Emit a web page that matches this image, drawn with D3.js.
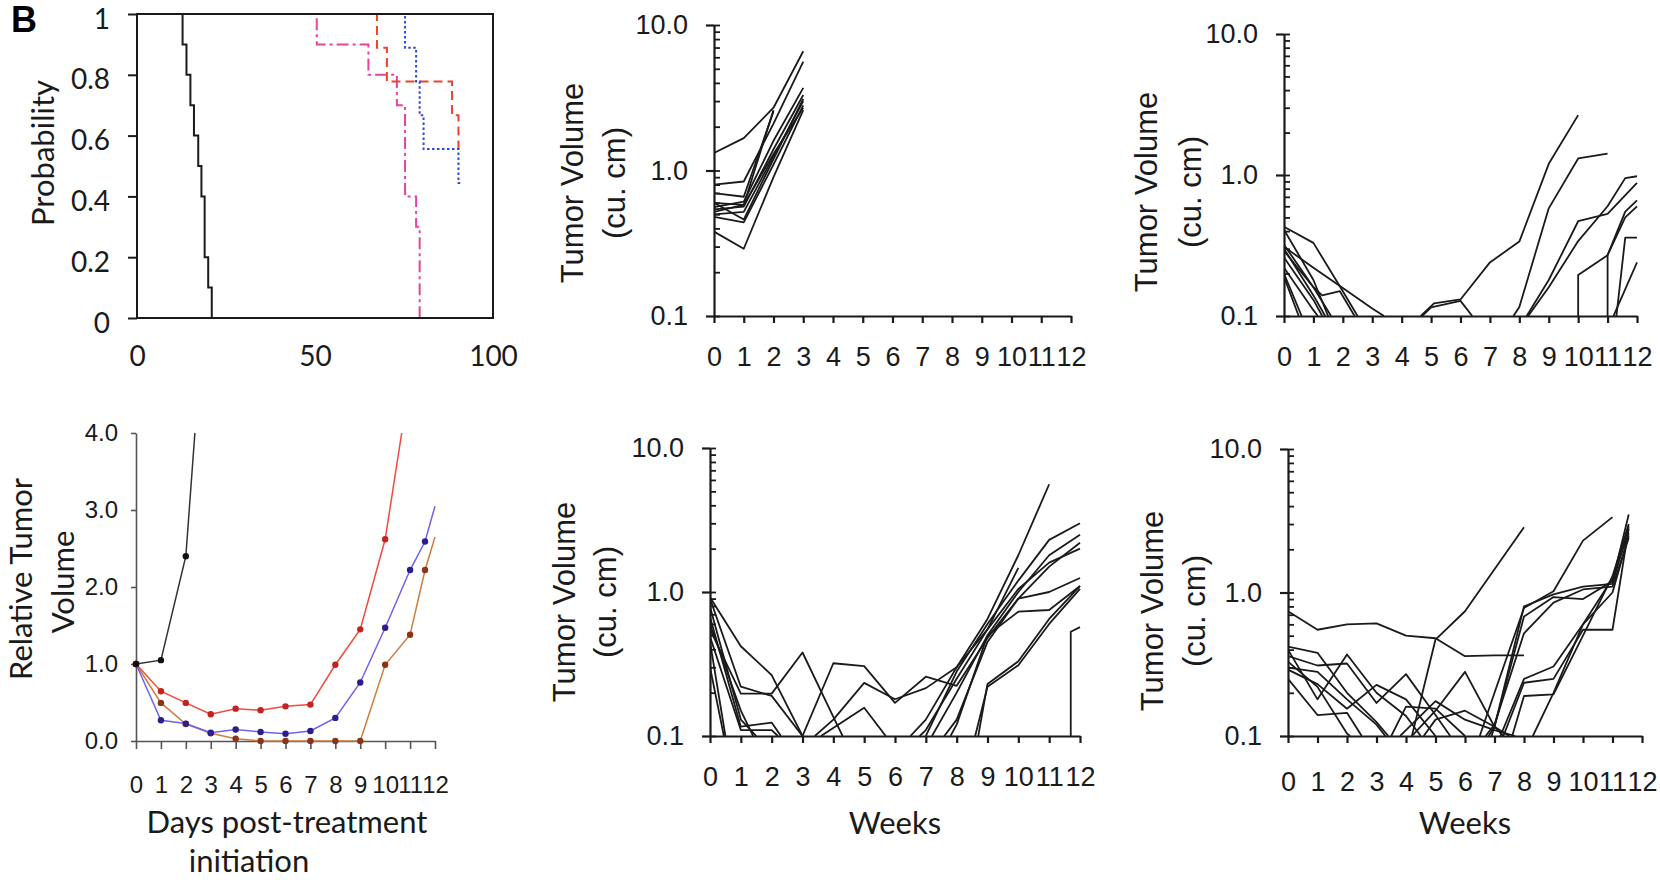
<!DOCTYPE html>
<html>
<head>
<meta charset="utf-8">
<script src="https://cdn.jsdelivr.net/npm/d3@7"></script>
<style>
  body { margin: 0; background: #fff; }
  svg { display: block; }
</style>
</head>
<body>
<svg id="chart" width="1660" height="880"></svg>
<script>
// ---------- data ----------
// survival curves: [day, probability]
const kmTicksX = [0, 50, 100];
const kmTicksY = [0, 0.2, 0.4, 0.6, 0.8, 1];
const kmBlack = [[0, 1], [12.8, 0.9], [13.9, 0.8], [15, 0.7], [16, 0.6], [17.2, 0.5], [18.1, 0.4], [19, 0.2], [20, 0.1], [21, 0]];
const kmPink = [[0, 1], [50.5, 0.9], [65, 0.8], [73, 0.7], [75.3, 0.4], [78.4, 0.3], [79.4, 0]];
const kmRed = [[0, 1], [67.4, 0.889], [70.2, 0.778], [88.5, 0.667], [90.3, 0.556], [91.3, 0.556]];
const kmBlue = [[0, 1], [75.3, 0.889], [78.4, 0.778], [79.4, 0.667], [80.5, 0.556], [90.3, 0.444], [90.8, 0.444]];

// relative tumour volume: [day, relative volume]
const relDays = [0, 1, 2, 3, 4, 5, 6, 7, 8, 9, 10, 11, 12];
const relTicksY = [0, 1, 2, 3, 4];
const relBlack = [[0, 1.0], [1, 1.05], [2, 2.4], [3, 6.8]];
const relRed = [[0, 1.0], [1, 0.646], [2, 0.495], [3, 0.347], [4, 0.42], [5, 0.40], [6, 0.45], [7, 0.473], [8, 0.99], [9, 1.45], [10, 2.62], [11, 4.7]];
const relBlue = [[0, 1.0], [1, 0.27], [2, 0.226], [3, 0.108], [4, 0.15], [5, 0.117], [6, 0.095], [7, 0.13], [8, 0.30], [9, 0.76], [10, 1.47], [11, 2.22], [11.6, 2.59], [12, 3.05]];
const relBrown = [[0, 1.0], [1, 0.495], [2, 0.22], [3, 0.10], [4, 0.03], [5, 0], [6, 0], [7, 0], [8, 0], [9, 0], [10, 0.99], [11, 1.38], [11.6, 2.22], [12, 2.65]];

// individual tumour volumes: [week, cu. cm]
const weeks = [0, 1, 2, 3, 4, 5, 6, 7, 8, 9, 10, 11, 12];
const volTicksY = [0.1, 1, 10];
const volMinorTicks = [0.2, 0.3, 0.4, 0.5, 0.6, 0.7, 0.8, 0.9, 2, 3, 4, 5, 6, 7, 8, 9];

const volTopMid = [
  [[0, 1.32], [1, 1.67], [2, 2.7], [3, 6.6]],
  [[0, 0.80], [1, 0.84], [2, 2.1], [3, 5.6]],
  [[0, 0.70], [1, 0.66], [2, 2.55]],
  [[0, 0.60], [1, 0.58], [2, 2.6]],
  [[0, 0.56], [1, 0.61], [2, 1.6], [3, 3.7]],
  [[0, 0.54], [1, 0.565], [2, 1.4], [3, 3.3]],
  [[0, 0.50], [1, 0.52], [2, 1.25], [3, 3.0]],
  [[0, 0.48], [1, 0.44], [2, 1.1], [3, 2.8]],
  [[0, 0.52], [1, 0.58], [2, 1.3], [3, 2.7]],
  [[0, 0.38], [1, 0.29], [2, 0.9], [3, 2.6]],
  [[0, 0.60], [1, 0.46], [2, 1.2], [3, 3.1]]
];

const volTopRight = [
  [[0, 0.43], [1, 0.33], [2, 0.15], [2.5, 0.1]],
  [[0, 0.31], [1, 0.22], [2, 0.158], [3, 0.113], [3.4, 0.1]],
  [[0, 0.29], [1, 0.16], [1.3, 0.14], [1.9, 0.15], [2.4, 0.1]],
  [[0, 0.32], [1, 0.16], [1.6, 0.1]],
  [[0, 0.22], [1, 0.11], [1.15, 0.1]],
  [[0, 0.20], [0.6, 0.1]],
  [[0, 0.19], [0.5, 0.1]],
  [[0, 0.41], [1, 0.18], [1.5, 0.1]],
  [[0, 0.30], [1, 0.14], [1.4, 0.1]],
  [[0, 0.26], [1, 0.13], [1.3, 0.1]],
  [[4.65, 0.1], [5.1, 0.123], [6, 0.131], [7, 0.24], [8, 0.337], [9, 1.2], [10, 2.66]],
  [[4.7, 0.1], [5, 0.115], [6, 0.128], [6.4, 0.1]],
  [[7.8, 0.1], [8, 0.116], [9, 0.58], [10, 1.31], [11, 1.42]],
  [[8.25, 0.1], [9, 0.18], [10, 0.47], [11, 0.53], [12, 0.88]],
  [[8.3, 0.1], [9, 0.16], [10, 0.34], [11, 0.6], [11.6, 0.95], [12, 0.98]],
  [[10, 0.1], [10, 0.195], [11, 0.27], [11.6, 0.5], [12, 0.6]],
  [[11, 0.1], [11, 0.27], [11.6, 0.55], [12, 0.66]],
  [[11.2, 0.1], [12, 0.24]],
  [[11.3, 0.1], [11.6, 0.36], [12, 0.36]]
];

const volBotMid = [
  [[0, 0.92], [1, 0.42], [2, 0.265], [3, 0.1]],
  [[0, 0.55], [1, 0.197], [2, 0.197], [3, 0.38], [4, 0.136], [4.3, 0.1]],
  [[0, 0.90], [1, 0.22], [2, 0.19], [3, 0.1]],
  [[0, 0.67], [1, 0.116], [2, 0.124], [2.3, 0.1]],
  [[0, 0.49], [1, 0.11], [2, 0.11], [2.2, 0.1]],
  [[0, 0.45], [0.5, 0.1]],
  [[0, 0.30], [0.45, 0.1]],
  [[0, 0.79], [1, 0.13], [1.5, 0.1]],
  [[0, 0.60], [1, 0.15], [1.4, 0.1]],
  [[3, 0.1], [4, 0.32], [5, 0.306], [6, 0.17], [7, 0.258], [8, 0.223], [9, 0.48], [10, 0.9], [11, 1.0], [12, 1.25]],
  [[3.4, 0.1], [4, 0.13], [5, 0.234], [6, 0.18], [7, 0.215], [8, 0.3], [9, 0.55], [10, 1.05], [11, 1.6], [12, 2.0]],
  [[3.6, 0.1], [5, 0.157], [5.7, 0.1]],
  [[6.5, 0.1], [7, 0.13], [8, 0.3], [9, 0.65], [10, 1.8], [11, 5.6]],
  [[6.8, 0.1], [7, 0.11], [8, 0.25], [9, 0.55], [10, 1.47]],
  [[7, 0.1], [8, 0.28], [9, 0.6], [10, 1.2], [11, 2.3], [12, 3.0]],
  [[7.2, 0.1], [8, 0.2], [9, 0.5], [10, 1.0], [11, 1.8], [12, 2.5]],
  [[7.6, 0.1], [8, 0.13], [9, 0.45], [10, 0.9], [11, 1.5], [12, 2.2]],
  [[7.8, 0.1], [8, 0.12], [9, 0.5], [10, 0.73], [11, 0.75], [12, 1.1]],
  [[8.7, 0.1], [9, 0.23], [10, 0.33], [11, 0.65], [12, 1.1]],
  [[8.6, 0.1], [9, 0.22], [10, 0.31], [11, 0.6], [12, 1.05]],
  [[11.7, 0.1], [11.7, 0.53], [12, 0.57]]
];

const volBotRight = [
  [[0, 0.74], [1, 0.55], [2, 0.6], [3, 0.61], [4, 0.5], [5, 0.48], [6, 0.36], [7, 0.365], [8, 0.365]],
  [[4.2, 0.1], [5, 0.47], [6, 0.74], [7, 1.45], [8, 2.85]],
  [[0, 0.42], [1, 0.38], [2, 0.2], [3, 0.125], [3.4, 0.1]],
  [[0, 0.40], [1, 0.18], [2, 0.37], [3, 0.2], [4, 0.138], [4.5, 0.1]],
  [[0, 0.36], [1, 0.31], [2, 0.32], [3, 0.17], [4, 0.27], [5, 0.14], [5.5, 0.1]],
  [[0, 0.29], [1, 0.23], [2, 0.155], [3, 0.227], [4, 0.18], [5, 0.1]],
  [[0, 0.25], [1, 0.14], [2, 0.145], [2.5, 0.1]],
  [[0, 0.33], [1, 0.22], [2, 0.104], [2.1, 0.1]],
  [[0, 0.30], [1, 0.28], [2, 0.18], [3, 0.12], [3.3, 0.1]],
  [[3.5, 0.1], [4, 0.16], [5, 0.155], [6, 0.1]],
  [[4.2, 0.1], [5, 0.15], [6, 0.28], [7, 0.116], [7.3, 0.1]],
  [[4.6, 0.1], [5, 0.13], [6, 0.15], [7, 0.116], [7.5, 0.1]],
  [[3.8, 0.1], [4, 0.11], [5, 0.175], [6, 0.13], [7, 0.11], [7.7, 0.1]],
  [[6.5, 0.1], [7, 0.2], [8, 0.78], [9, 1.02], [10, 2.3], [11, 3.35]],
  [[6.8, 0.1], [7, 0.116], [8, 0.8], [9, 0.97], [10, 1.1], [11, 1.15], [11.55, 2.9]],
  [[6.9, 0.1], [7, 0.116], [8, 0.68], [9, 0.93], [10, 0.9], [11, 1.2], [11.55, 3.5]],
  [[6.7, 0.1], [7, 0.12], [8, 0.52], [9, 0.85], [10, 1.05], [11, 1.1], [11.55, 2.4]],
  [[7.2, 0.1], [8, 0.25], [9, 0.305], [10, 0.6], [11, 1.25], [11.55, 2.6]],
  [[7.3, 0.1], [8, 0.235], [9, 0.25], [10, 0.55], [11, 0.55], [11.55, 2.8]],
  [[7.6, 0.1], [8, 0.19], [9, 0.195], [10, 0.5], [11, 1.3], [11.55, 3.0]],
  [[8.3, 0.1], [9, 0.2], [10, 0.6], [11, 1.0], [11.55, 2.5]]
];

// ---------- drawing ----------
const svg = d3.select("#chart");
svg.append("rect").attr("width", 1660).attr("height", 880).attr("fill", "#fff");

const arial = "'Liberation Sans', Arial, sans-serif";
const humanist = "Lato, 'Open Sans', sans-serif";

function styleAxis(g, family, size, stroke, width) {
  g.attr("font-family", family).attr("font-size", size);
  g.selectAll("path, line").attr("stroke", stroke).attr("stroke-width", width);
  g.selectAll("text").attr("fill", "#1a1a1a");
}

function rotLabel(x, y, text, family, size) {
  svg.append("text")
    .attr("transform", `translate(${x},${y}) rotate(-90)`)
    .attr("text-anchor", "middle")
    .attr("dominant-baseline", "central")
    .attr("font-family", family)
    .attr("font-size", size)
    .attr("fill", "#1a1a1a")
    .text(text);
}

function label(x, y, text, family, size) {
  svg.append("text")
    .attr("x", x).attr("y", y)
    .attr("text-anchor", "middle")
    .attr("dominant-baseline", "central")
    .attr("font-family", family)
    .attr("font-size", size)
    .attr("fill", "#1a1a1a")
    .text(text);
}

// panel letter
svg.append("text")
  .attr("x", 11).attr("y", 32)
  .attr("font-family", arial).attr("font-weight", "bold").attr("font-size", 36)
  .text("B");

// ----- survival panel -----
const kmX = d3.scaleLinear().domain([0, 100]).range([137, 493]);
const kmY = d3.scaleLinear().domain([0, 1]).range([318, 14]);

const kmLine = d3.line()
  .x(d => kmX(d[0]))
  .y(d => kmY(d[1]))
  .curve(d3.curveStepAfter);

const kmSeries = [
  { pts: kmPink, color: "#e4449c", dash: "12,4,3,4" },
  { pts: kmRed, color: "#e8452c", dash: "9,5" },
  { pts: kmBlue, color: "#2f48dc", dash: "2.5,2.5" },
  { pts: kmBlack, color: "#1a1a1a", dash: null }
];

svg.append("g").selectAll("path")
  .data(kmSeries)
  .enter().append("path")
  .attr("d", d => kmLine(d.pts))
  .attr("fill", "none")
  .attr("stroke", d => d.color)
  .attr("stroke-width", 2)
  .attr("stroke-dasharray", d => d.dash);

svg.append("rect")
  .attr("x", kmX(0)).attr("y", kmY(1))
  .attr("width", kmX(100) - kmX(0)).attr("height", kmY(0) - kmY(1))
  .attr("fill", "none").attr("stroke", "#1a1a1a").attr("stroke-width", 2);

svg.append("g")
  .attr("transform", `translate(${kmX(0)},0)`)
  .call(d3.axisLeft(kmY).tickValues(kmTicksY).tickFormat(d3.format("~g"))
    .tickSize(9).tickPadding(18).tickSizeOuter(0))
  .call(g => styleAxis(g, humanist, 28, "#1a1a1a", 2))
  .call(g => g.select(".domain").remove())
  .call(g => g.selectAll(".tick text").attr("dy", "0.5em"));

svg.append("g")
  .attr("transform", `translate(0,${kmY(0)})`)
  .call(d3.axisBottom(kmX).tickValues(kmTicksX).tickSize(0).tickSizeOuter(0))
  .call(g => styleAxis(g, humanist, 28, "#1a1a1a", 2))
  .call(g => g.select(".domain").remove())
  .call(g => g.selectAll(".tick text").attr("y", 38).attr("dy", "0.35em"));

rotLabel(42, 153, "Probability", humanist, 31);

// ----- relative tumour volume panel -----
const relX = d3.scaleLinear().domain([0, 12]).range([136, 435]);
const relY = d3.scaleLinear().domain([0, 4]).range([741, 433]);

svg.append("defs").append("clipPath").attr("id", "relClip")
  .append("rect").attr("x", 126).attr("y", relY(4)).attr("width", 320).attr("height", 330);

svg.append("g")
  .attr("transform", `translate(${relX(0)},0)`)
  .call(d3.axisLeft(relY).tickValues(relTicksY).tickFormat(d3.format(".1f"))
    .tickSize(5).tickPadding(13).tickSizeOuter(0))
  .call(g => styleAxis(g, arial, 24, "#555", 1.6));

svg.append("g")
  .attr("transform", `translate(0,${relY(0)})`)
  .call(d3.axisBottom(relX).tickValues(relDays).tickSize(8).tickSizeOuter(0))
  .call(g => styleAxis(g, arial, 24, "#555", 1.6))
  .call(g => g.selectAll(".tick text").attr("y", 44).attr("dy", "0.35em"));

const relSeries = [
  { pts: relBrown, line: "#d27c3c", dot: "#8a3418" },
  { pts: relBlue, line: "#6f62ee", dot: "#2a1e8c" },
  { pts: relRed, line: "#f04b3b", dot: "#c22222" },
  { pts: relBlack, line: "#333", dot: "#111" }
];

const relLine = d3.line().x(d => relX(d[0])).y(d => relY(d[1]));
const relG = svg.append("g").attr("clip-path", "url(#relClip)");

relG.selectAll("path")
  .data(relSeries)
  .enter().append("path")
  .attr("d", d => relLine(d.pts))
  .attr("fill", "none")
  .attr("stroke", d => d.line)
  .attr("stroke-width", 1.5);

relSeries.forEach(s => {
  relG.selectAll(null)
    .data(s.pts.filter(d => d[0] < 12 && d[1] <= 4))
    .enter().append("circle")
    .attr("cx", d => relX(d[0]))
    .attr("cy", d => relY(d[1]))
    .attr("r", 3.2)
    .attr("fill", s.dot);
});

rotLabel(20, 579, "Relative Tumor", humanist, 31);
rotLabel(62, 582, "Volume", humanist, 31);
label(287, 821, "Days post-treatment", humanist, 31);
label(249, 860, "initiation", humanist, 31);

// ----- tumour volume panels (log scale) -----
const volPanels = [
  { data: volTopMid, x0: 714, x1: 1071, yb: 316, yt: 25, tickY: 41, tx: [572, 614], ty: 183 },
  { data: volTopRight, x0: 1284, x1: 1637, yb: 316, yt: 34, tickY: 41, tx: [1146, 1190], ty: 192 },
  { data: volBotMid, x0: 710, x1: 1080, yb: 736, yt: 448, tickY: 41, tx: [564, 605], ty: 602, wy: 822 },
  { data: volBotRight, x0: 1288, x1: 1642, yb: 736, yt: 449, tickY: 46, tx: [1152, 1194], ty: 611, wy: 822 }
];

volPanels.forEach((p, i) => {
  const x = d3.scaleLinear().domain([0, 12]).range([p.x0, p.x1]);
  const y = d3.scaleLog().domain([0.1, 10]).range([p.yb, p.yt]);

  svg.append("defs").append("clipPath").attr("id", "volClip" + i)
    .append("rect").attr("x", p.x0).attr("y", p.yt).attr("width", p.x1 - p.x0 + 2).attr("height", p.yb - p.yt);

  const line = d3.line().x(d => x(d[0])).y(d => y(d[1]));
  svg.append("g").attr("clip-path", `url(#volClip${i})`)
    .selectAll("path")
    .data(p.data)
    .enter().append("path")
    .attr("d", line)
    .attr("fill", "none")
    .attr("stroke", "#1a1a1a")
    .attr("stroke-width", 1.8)
    .attr("stroke-linejoin", "round");

  // minor ticks point inward
  svg.append("g")
    .attr("transform", `translate(${p.x0},0)`)
    .call(d3.axisRight(y).tickValues(volMinorTicks.concat(volTicksY)).tickFormat("").tickSize(6).tickSizeOuter(0))
    .call(g => styleAxis(g, arial, 27, "#1a1a1a", 1.8))
    .call(g => g.select(".domain").remove());

  svg.append("g")
    .attr("transform", `translate(${p.x0},0)`)
    .call(d3.axisLeft(y).tickValues(volTicksY).tickFormat(d3.format(".1f"))
      .tickSize(8).tickPadding(18).tickSizeOuter(0))
    .call(g => styleAxis(g, arial, 27, "#1a1a1a", 2.2));

  svg.append("g")
    .attr("transform", `translate(0,${p.yb})`)
    .call(d3.axisBottom(x).tickValues(weeks).tickSize(7).tickSizeOuter(0))
    .call(g => styleAxis(g, arial, 27, "#1a1a1a", 2.2))
    .call(g => g.selectAll(".tick text").attr("y", p.tickY).attr("dy", "0.35em"));

  rotLabel(p.tx[0], p.ty, "Tumor Volume", arial, 31);
  rotLabel(p.tx[1], p.ty, "(cu. cm)", arial, 31);
  if (p.wy) label((p.x0 + p.x1) / 2, p.wy, "Weeks", humanist, 31);
});
</script>
</body>
</html>
